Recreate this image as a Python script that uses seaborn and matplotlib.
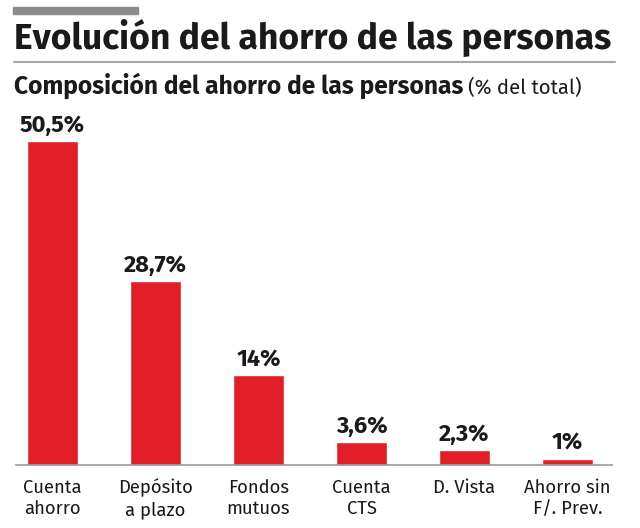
import pandas as pd
import matplotlib.pyplot as plt
import seaborn as sns

# Datos
categorias = ['Cuenta\nahorro', 'Depósito\na plazo', 'Fondos\nmutuos', 'Cuenta\nCTS', 'D. Vista', 'Ahorro sin\nF/. Prev.']
valores = [50.5, 28.7, 14, 3.6, 2.3, 1]
etiquetas = ['50,5%', '28,7%', '14%', '3,6%', '2,3%', '1%']

data = pd.DataFrame({'categoria': categorias, 'valor': valores})

sns.set_style('white')
plt.rcParams['font.family'] = ['Fira Sans', 'Fira Sans Condensed', 'Roboto', 'DejaVu Sans']

fig = plt.figure(figsize=(6.4, 5.28), dpi=100)
ax = fig.add_axes([0.025, 0.1193, 0.931, 0.6686])

sns.barplot(data=data, x='categoria', y='valor', color='#e21f26', width=0.5,
            saturation=1, ax=ax)

ax.bar_label(ax.containers[0], labels=etiquetas, padding=3, fontsize=17,
             fontweight='bold', color='#1a1a1a')

ax.set_ylim(0, 55)
ax.set_xlim(-0.354, 5.43)
ax.set_xlabel('')
ax.set_ylabel('')
ax.set_yticks([])
ax.tick_params(axis='x', length=0, pad=10, labelsize=13.3, labelcolor='#1a1a1a')
for lbl in ax.get_xticklabels():
    lbl.set_linespacing(1.25)
for side in ['top', 'left', 'right']:
    ax.spines[side].set_visible(False)
ax.spines['bottom'].set_color('#999999')
ax.spines['bottom'].set_linewidth(1.2)

# Cabecera
fig.add_artist(plt.Rectangle((13 / 640, 1 - 14 / 528), 125 / 640, 7 / 528,
                             color='#8c8c8c', transform=fig.transFigure))
fig.text(14 / 640, 1 - 48 / 528, 'Evolución del ahorro de las personas',
         fontsize=25.5, fontweight='bold', color='#1a1a1a', va='baseline')
fig.add_artist(plt.Line2D([14 / 640, 615 / 640], [1 - 62 / 528, 1 - 62 / 528],
                          color='#a8a8a8', linewidth=1.5, transform=fig.transFigure))
t = fig.text(14 / 640, 1 - 94 / 528, 'Composición del ahorro de las personas',
             fontsize=17.7, fontweight='bold', color='#1a1a1a', va='baseline')
fig.canvas.draw()
bb = t.get_window_extent()
fig.text((bb.x1 + 5) / 640, 1 - 94 / 528, '(% del total)',
         fontsize=14.7, color='#1a1a1a', va='baseline')

fig.savefig('out.png', dpi=100)
